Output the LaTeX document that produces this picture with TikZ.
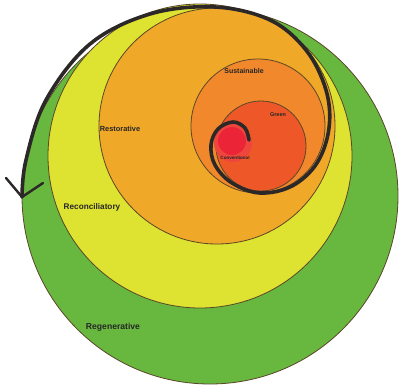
\documentclass[tikz,border=0pt]{standalone}
\usepackage{fontspec}
\setmainfont{Liberation Sans}
\definecolor{cgreen}{RGB}{104,184,64}
\definecolor{cyellow}{RGB}{222,226,48}
\definecolor{crest}{RGB}{240,168,40}
\definecolor{csust}{RGB}{241,136,44}
\definecolor{cscar}{RGB}{238,88,40}
\definecolor{cred}{RGB}{236,36,56}
\definecolor{cglow}{RGB}{238,70,60}
\definecolor{cedge}{RGB}{90,70,40}
\definecolor{cspiral}{RGB}{45,40,40}
\tikzset{
  ring/.style={draw=cedge, line width=0.8pt},
  lbl/.style={font=\bfseries, text=black!85, inner sep=0pt},
  spiral/.style={draw=cspiral, line width=3.6pt, line cap=round, line join=round}
}
\begin{document}
\begin{tikzpicture}[x=1pt,y=-1pt]
\useasboundingbox (0,0) rectangle (399,388);
\fill[white] (0,0) rectangle (399,388);
% circles
\fill[cgreen, ring] (210,196) circle (188);
\fill[cyellow, ring] (200,156) circle (152);
\fill[crest, ring] (217,126) circle (118);
\fill[csust, ring] (258,126) circle (67);
\fill[cscar, ring] (261,146) circle (45);
\fill[cglow] (233,143) circle (19);
\fill[cred] (232,141) circle (14);
% labels
\node[lbl, font=\bfseries\fontsize{8.6}{9}\selectfont] (regen) at (113,327) {Regenerative};
\node[lbl, font=\bfseries\fontsize{8.2}{9}\selectfont] (recon) at (92,207) {Reconciliatory};
\node[lbl, font=\bfseries\fontsize{7.4}{8}\selectfont] (resto) at (120,129) {Restorative};
\node[lbl, font=\bfseries\fontsize{7}{8}\selectfont] (sust) at (244,71) {Sustainable};
\node[lbl, font=\bfseries\fontsize{5.5}{6}\selectfont] (green) at (278,115) {Green};
\node[lbl, font=\bfseries\fontsize{4.6}{5}\selectfont] (conv) at (235,158) {Conventional};
% spiral
\coordinate (sstart) at (249,140);
\coordinate (tip) at (22,197);
\draw[spiral] plot[smooth, tension=0.6] coordinates {(249,140) (245,128) (233,122) (218,129) (211,145) (215,165) (232,183) (260,193) (292,186) (317,163) (329,128) (326,90) (306,50) (270,20) (215,7) (150,14) (90,44) (46,100) (26,160) (22,197)};
\coordinate (armL) at (6,178);
\coordinate (armR) at (43,183);
\draw[cspiral, line width=2.4pt, line cap=round, line join=round] (armL) -- (tip) -- (armR);
\end{tikzpicture}
\end{document}
